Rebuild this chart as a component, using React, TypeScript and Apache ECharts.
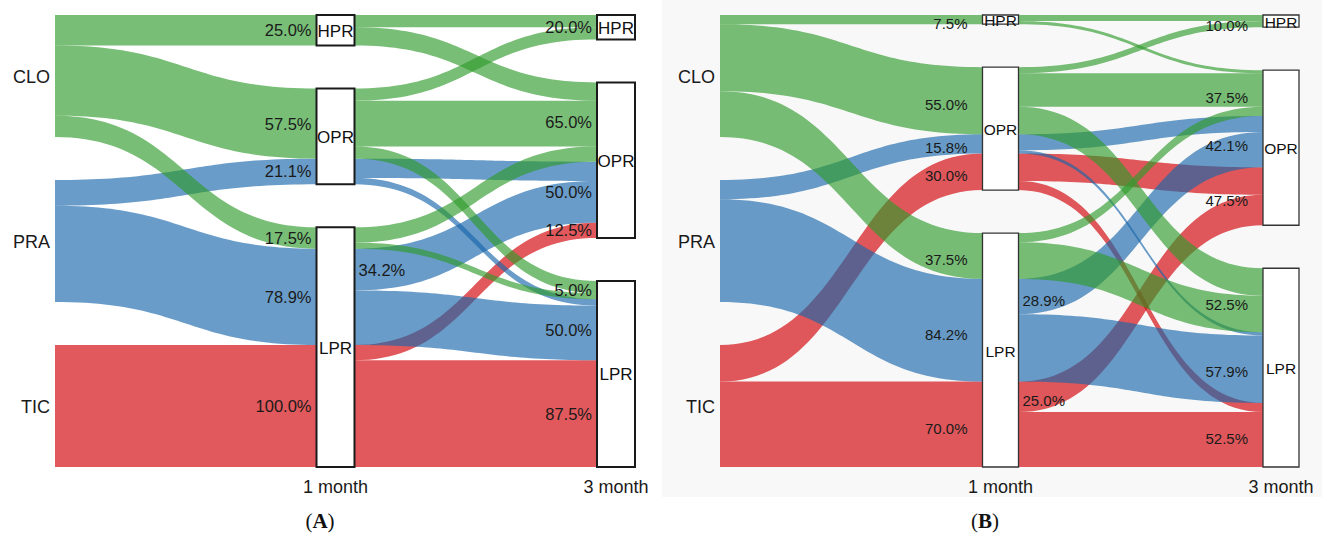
import React, { useEffect, useRef } from "react";
import * as echarts from "echarts";

// ---------- data ----------
const GROUPS = ["CLO", "PRA", "TIC"];
const STATES = ["HPR", "OPR", "LPR"];
const STAGES = ["1 month", "3 month"];

// Panel A: patients per baseline group
const A_N = [40, 38, 40];
// transitions: [1-month state][3-month state], counts
const A_CLO = [[4, 6, 0], [4, 15, 4], [0, 5, 2]];
const A_PRA = [[0, 0, 0], [0, 6, 2], [0, 13, 17]];
const A_TIC = [[0, 0, 0], [0, 0, 0], [0, 5, 35]];
// percentage labels as printed
const A_M1_TEXT = [["25.0%", "57.5%", "17.5%"], ["", "21.1%", "78.9%"], ["", "", "100.0%"]];
const A_M3_TEXT = [["20.0%", "65.0%", "5.0%"], ["", "50.0%", "50.0%"], ["", "12.5%", "87.5%"]];
const A_FLOW_TEXT: [number, number, number, string][] = [[1, 2, 1, "34.2%"]];

// Panel B
const B_N = [40, 38, 40];
const B_CLO = [[2, 1, 0], [2, 11, 9], [0, 3, 12]];
const B_PRA = [[0, 0, 0], [0, 5, 1], [0, 11, 21]];
const B_TIC = [[0, 0, 0], [0, 9, 3], [0, 10, 18]];
const B_M1_TEXT = [["7.5%", "55.0%", "37.5%"], ["", "15.8%", "84.2%"], ["", "30.0%", "70.0%"]];
const B_M3_TEXT = [["10.0%", "37.5%", "52.5%"], ["", "42.1%", "57.9%"], ["", "47.5%", "52.5%"]];
const B_FLOW_TEXT: [number, number, number, string][] = [[1, 2, 1, "28.9%"], [2, 2, 1, "25.0%"]];

const CAPTIONS = ["A", "B"];

// ---------- styling ----------
const FILLS = ["rgba(47,155,44,0.65)", "rgba(24,103,170,0.65)", "rgba(209,0,4,0.65)"];
const GAP = 0.3525;
const YMAX = 3 + 2 * GAP;
const SANS = "'Liberation Sans', Arial, Helvetica, sans-serif";
const SERIF = "'Liberation Serif', 'Times New Roman', serif";

type Rib = { g: number; stage: number; a0: number; b0: number; a1: number; b1: number };
type Lab = { kind: string; stage: number; y: number; text: string };
type Box = { stage: number; top: number; size: number; name: string };

function buildPanel(N: number[], T: number[][][], m1Text: string[][], m3Text: string[][], flowText: [number, number, number, string][]) {
  const m1 = T.map((tg, g) => tg.map((row) => row.reduce((p, q) => p + q, 0) / N[g]));
  const m3 = T.map((tg, g) => STATES.map((_, t) => tg.reduce((p, row) => p + row[t], 0) / N[g]));
  const n1 = STATES.map((_, s) => m1.reduce((p, r) => p + r[s], 0));
  const n3 = STATES.map((_, t) => m3.reduce((p, r) => p + r[t], 0));
  const tops = (sizes: number[]) => {
    let y = 0;
    return sizes.map((v) => {
      const t = y;
      y += v + GAP;
      return t;
    });
  };
  const top0 = tops(GROUPS.map(() => 1));
  const top1 = tops(n1);
  const top2 = tops(n3);
  const ribbons: Rib[] = [];
  const labels: Lab[] = [];
  const boxes: Box[] = [];
  STATES.forEach((name, s) => {
    boxes.push({ stage: 1, top: top1[s], size: n1[s], name });
    boxes.push({ stage: 2, top: top2[s], size: n3[s], name });
  });
  GROUPS.forEach((name, g) => labels.push({ kind: "group", stage: 0, y: top0[g] + 0.5, text: name }));
  STAGES.forEach((name, i) => labels.push({ kind: "axis", stage: i + 1, y: YMAX, text: name }));

  const in1 = top1.slice();
  GROUPS.forEach((_, g) => {
    let c = top0[g];
    STATES.forEach((_, s) => {
      const v = m1[g][s];
      if (v <= 0) return;
      ribbons.push({ g, stage: 0, a0: c, b0: c + v, a1: in1[s], b1: in1[s] + v });
      if (m1Text[g][s]) labels.push({ kind: "in", stage: 1, y: in1[s] + v / 2, text: m1Text[g][s] });
      c += v;
      in1[s] += v;
    });
  });
  const out1 = top1.slice();
  const in2 = top2.slice();
  GROUPS.forEach((_, g) => {
    STATES.forEach((_, s) => {
      STATES.forEach((_, t) => {
        const v = T[g][s][t] / N[g];
        if (v <= 0) return;
        ribbons.push({ g, stage: 1, a0: out1[s], b0: out1[s] + v, a1: in2[t], b1: in2[t] + v });
        flowText.forEach((f) => {
          if (f[0] === g && f[1] === s && f[2] === t) labels.push({ kind: "flow", stage: 1, y: out1[s] + v / 2, text: f[3] });
        });
        out1[s] += v;
        in2[t] += v;
      });
    });
  });
  STATES.forEach((_, t) => {
    let c = top2[t];
    GROUPS.forEach((_, g) => {
      const v = m3[g][t];
      if (v > 0 && m3Text[g][t]) labels.push({ kind: "node3", stage: 2, y: c + v / 2, text: m3Text[g][t] });
      c += v;
    });
  });
  // draw red first, then blue, then green on top
  ribbons.sort((p, q) => q.g - p.g);
  return { ribbons, labels, boxes };
}

type PanelStyle = {
  left: number; bw: number; labelGap: number; pct: number; boxFont: number; dy: number; stroke: string; lw: number;
};

function panelSeries(idx: number, panel: ReturnType<typeof buildPanel>, st: PanelStyle) {
  const { ribbons, labels, boxes } = panel;
  const ribbonSeries = {
    type: "custom",
    xAxisIndex: idx,
    yAxisIndex: idx,
    z: 2,
    silent: true,
    data: ribbons.map((_, i) => [i]),
    renderItem: (params: any, api: any) => {
      const r = ribbons[params.dataIndex];
      const xa = r.stage === 0 ? api.coord([0, 0])[0] : api.coord([1, 0])[0] + st.bw / 2;
      const xb = api.coord([r.stage + 1, 0])[0] - st.bw / 2;
      const ya0 = api.coord([0, r.a0])[1];
      const yb0 = api.coord([0, r.b0])[1];
      const ya1 = api.coord([0, r.a1])[1];
      const yb1 = api.coord([0, r.b1])[1];
      const xm = (xa + xb) / 2;
      const bez = (y0: number, y1: number, t: number) => {
        const u = 1 - t;
        const x = u * u * u * xa + 3 * u * u * t * xm + 3 * u * t * t * xm + t * t * t * xb;
        const y = u * u * u * y0 + 3 * u * u * t * y0 + 3 * u * t * t * y1 + t * t * t * y1;
        return [x, y];
      };
      const pts: number[][] = [];
      const K = 48;
      for (let k = 0; k <= K; k++) pts.push(bez(ya0, ya1, k / K));
      for (let k = K; k >= 0; k--) pts.push(bez(yb0, yb1, k / K));
      return { type: "polygon", shape: { points: pts }, style: { fill: FILLS[r.g] } };
    },
  };
  const boxSeries = {
    type: "custom",
    xAxisIndex: idx,
    yAxisIndex: idx,
    z: 3,
    silent: true,
    data: boxes.map((_, i) => [i]),
    renderItem: (params: any, api: any) => {
      const b = boxes[params.dataIndex];
      const cx = api.coord([b.stage, 0])[0];
      const y0 = api.coord([0, b.top])[1];
      const y1 = api.coord([0, b.top + b.size])[1];
      return {
        type: "group",
        children: [
          {
            type: "rect",
            shape: { x: cx - st.bw / 2, y: y0, width: st.bw, height: y1 - y0 },
            style: { fill: "#ffffff", stroke: st.stroke, lineWidth: st.lw },
          },
          {
            type: "text",
            x: cx,
            y: (y0 + y1) / 2 + 1,
            style: { text: b.name, fill: "#111", fontSize: st.boxFont, fontFamily: SANS, align: "center", verticalAlign: "middle" },
          },
        ],
      };
    },
  };
  const labelSeries = {
    type: "custom",
    xAxisIndex: idx,
    yAxisIndex: idx,
    z: 4,
    silent: true,
    data: labels.map((_, i) => [i]),
    renderItem: (params: any, api: any) => {
      const l = labels[params.dataIndex];
      const cx = api.coord([l.stage, 0])[0];
      const y = api.coord([0, l.y])[1];
      let x = cx;
      let align = "right";
      let size = st.pct;
      let yy = y + st.dy;
      if (l.kind === "in" || l.kind === "node3") x = cx - st.bw / 2 - st.labelGap;
      else if (l.kind === "flow") {
        x = cx + st.bw / 2 + 4;
        align = "left";
      } else if (l.kind === "group") {
        x = cx - 5;
        size = 18;
        yy = y + 1;
      } else if (l.kind === "axis") {
        align = "center";
        size = 18;
        yy = y + 20;
      }
      return {
        type: "text",
        x,
        y: yy,
        style: { text: l.text, fill: "#1a1a1a", fontSize: size, fontFamily: SANS, align, verticalAlign: "middle" },
      };
    },
  };
  return [ribbonSeries, boxSeries, labelSeries];
}

const STYLE_A: PanelStyle = { left: 55, bw: 38, labelGap: 5, pct: 16.5, boxFont: 17, dy: 0, stroke: "#1a1a1a", lw: 2 };
const STYLE_B: PanelStyle = { left: 720, bw: 36, labelGap: 15, pct: 15, boxFont: 15.5, dy: 4, stroke: "#333333", lw: 1.3 };

export default function App() {
  const ref = useRef<HTMLDivElement>(null);
  useEffect(() => {
    if (!ref.current) return;
    const chart = echarts.init(ref.current, null, { renderer: "svg" });
    const pA = buildPanel(A_N, [A_CLO, A_PRA, A_TIC], A_M1_TEXT, A_M3_TEXT, A_FLOW_TEXT);
    const pB = buildPanel(B_N, [B_CLO, B_PRA, B_TIC], B_M1_TEXT, B_M3_TEXT, B_FLOW_TEXT);
    const grid = (left: number) => ({ left, top: 15, width: 561, height: 452, containLabel: false });
    const xAx = (gi: number) => ({ type: "value", gridIndex: gi, min: 0, max: 2, show: false });
    const yAx = (gi: number) => ({ type: "value", gridIndex: gi, min: 0, max: YMAX, inverse: true, show: false });
    const caption = (letter: string, x: number) => ({
      type: "text",
      x,
      y: 521,
      style: {
        text: "({b|" + letter + "})",
        fill: "#111",
        fontSize: 21,
        fontFamily: SERIF,
        align: "center",
        verticalAlign: "middle",
        rich: { b: { fontWeight: "bold", fontSize: 21, fontFamily: SERIF, fill: "#111" } },
      },
    });
    chart.setOption({
      animation: false,
      backgroundColor: "#ffffff",
      grid: [grid(STYLE_A.left), grid(STYLE_B.left)],
      xAxis: [xAx(0), xAx(1)],
      yAxis: [yAx(0), yAx(1)],
      graphic: [
        { type: "rect", z: 0, silent: true, shape: { x: 662, y: 0, width: 660, height: 497 }, style: { fill: "#f8f8f8" } },
        caption(CAPTIONS[0], 320),
        caption(CAPTIONS[1], 985),
      ],
      series: [...panelSeries(0, pA, STYLE_A), ...panelSeries(1, pB, STYLE_B)],
    });
    return () => chart.dispose();
  }, []);
  return (
    <div
      ref={ref}
      style={{ position: "fixed", left: 0, top: 0, width: 1327, height: 547, background: "#fff" }}
    />
  );
}
